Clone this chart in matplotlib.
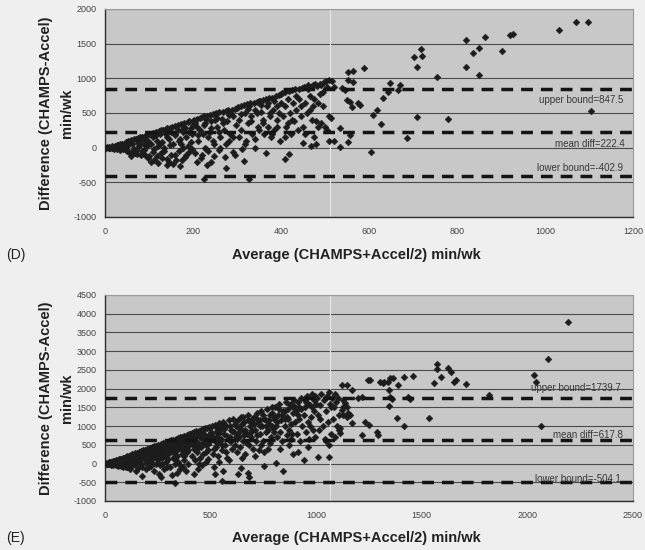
import numpy as np
import matplotlib
matplotlib.use("Agg")
import matplotlib.pyplot as plt

plt.rcParams['font.family'] = ['Liberation Sans', 'DejaVu Sans']
plt.rcParams['axes.unicode_minus'] = False

# ---------------- Panel D data (average, difference) ----------------
d_bounds = {"upper": 847.5, "mean": 222.4, "lower": -402.9}
d_xticks = [0, 200, 400, 600, 800, 1000, 1200]
d_yticks = [-1000, -500, 0, 500, 1000, 1500, 2000]

d_low = [(2,0),(5,5),(8,-5),(10,10),(12,-10),(15,20),(18,0),(20,-15),(22,30),(25,10),(27,-20),(30,40),(32,0),(35,-30),
         (38,50),(40,20),(42,-10),(45,60),(47,-40),(50,30),(10,0),(20,5),(30,15),(40,-25),(48,80),(35,60),(28,45),(15,-8),
         (45,0),(50,-50),(52,100),(55,-60),(58,110),(60,-70),(62,50),(65,120),(68,-80),(70,130),(72,-90),(75,140),(78,20),
         (80,150),(82,-100),(85,160),(88,60),(90,170),(92,-110),(95,180),(98,100),(100,190),(55,80),(65,-20),(75,70),
         (85,-50),(95,30),(70,-40),(80,90),(90,120),(100,-120),(98,-150),(60,-120),(88,-30)]
d_mid1 = [(102,200),(105,-200),(108,210),(110,150),(112,-180),(115,230),(118,100),(120,-220),(122,240),(125,50),(128,250),
          (130,-150),(132,260),(135,0),(138,270),(140,-250),(142,280),(145,120),(148,290),(150,-100),(105,60),(110,-60),
          (115,180),(120,20),(125,200),(130,80),(135,-50),(140,160),(145,-200),(150,230),(112,-20),(128,-80),(138,190),
          (148,40),(118,-120),(142,-160),(152,300),(155,-230),(158,310),(160,200),(162,-180),(165,330),(168,100),(170,-260),
          (172,340),(175,250),(178,0),(180,360),(182,-140),(185,150),(188,370),(190,-60),(192,380),(195,280),(198,-20),
          (200,390),(155,50),(160,-100),(165,260),(170,120),(175,-180),(180,300),(185,-110),(190,220),(195,80),(200,330),
          (158,180),(168,-50),(178,230),(188,30),(198,200),(172,60),(182,290)]
d_mid2 = [(202,400),(205,-80),(208,410),(210,300),(212,100),(215,430),(218,-150),(220,440),(222,200),(224,-445),(225,450),
          (228,350),(230,-20),(231,-249),(232,460),(235,150),(238,470),(240,-206),(242,380),(245,480),(248,50),(250,490),
          (205,350),(210,-200),(215,250),(220,-100),(225,320),(230,420),(235,-50),(240,280),(245,100),(250,400),(212,180),
          (228,0),(238,220),(248,-120),(252,500),(255,300),(258,-30),(260,510),(262,150),(265,420),(268,520),(270,250),
          (272,-130),(275,530),(276,-287),(278,380),(280,540),(282,100),(285,200),(288,550),(290,450),(292,-60),(295,560),
          (298,320),(300,570),(255,430),(262,0),(268,350),(275,50),(282,470),(290,150),(296,-100),(258,230),(285,500)]
d_mid3 = [(302,580),(305,400),(308,600),(310,250),(312,-20),(315,-191),(315,620),(318,500),(320,100),(322,630),(325,350),
          (328,-455),(330,640),(332,450),(335,200),(338,650),(340,550),(342,0),(345,660),(348,300),(350,670),(305,150),
          (310,480),(318,50),(325,560),(332,380),(340,120),(345,500),(350,250),(328,600),(352,680),(355,520),(358,400),
          (360,690),(362,200),(365,-72),(365,700),(368,600),(370,300),(372,710),(375,450),(378,150),(380,720),(382,550),
          (385,250),(388,740),(390,400),(392,600),(395,760),(398,100),(400,780),(355,620),(360,350),(370,650),(375,500),
          (380,200),(385,680),(390,300),(395,500),(400,650)]
d_mid4 = [(402,790),(405,450),(408,600),(409,-167),(410,800),(412,300),(415,700),(418,820),(419,-96),(420,500),(422,200),
          (425,830),(428,650),(430,380),(432,840),(435,550),(438,250),(440,850),(442,700),(445,450),(448,860),(449,62),
          (450,300),(410,150),(425,400),(435,750),(445,600),(415,350),(452,870),(455,650),(458,880),(460,500),(462,900),
          (465,750),(468,24),(468,880),(470,400),(472,900),(475,700),(478,920),(480,57),(480,380),(482,890),(485,650),
          (488,920),(490,350),(492,900),(495,600),(498,940),(500,300),(502,960),(505,880),(508,981),(508,96),(510,450),
          (513,431),(515,960),(520,96),(520,870),(455,200),(465,550),(475,150),(485,300),(495,800),(505,250),(462,850),
          (472,600),(488,780)]
d_high = [(534,283),(534,9),(552,80),(557,182),(539,860),(545,831),(550,687),(557,658),(561,586),(575,644),(580,615),
          (552,1091),(564,1105),(552,976),(564,947),(588,1148),(609,471),(618,543),(627,341),(605,-63),(632,716),(643,802),
          (648,932),(666,831),(670,903),(686,139),(702,1307),(709,1163),(718,1423),(720,1322),(709,442),(755,1019),
          (780,413),(821,1555),(821,1163),(836,1364),(849,1435),(850,1043),(863,1589),(902,1388),(920,1622),(927,1636),
          (1031,1699),(1071,1818),(1098,1818),(1104,526)]

# ---------------- Panel E data (average, difference) ----------------
e_bounds = {"upper": 1739.7, "mean": 617.8, "lower": -504.1}
e_xticks = [0, 500, 1000, 1500, 2000, 2500]
e_yticks = [-1000, -500, 0, 500, 1000, 1500, 2000, 2500, 3000, 3500, 4000, 4500]

e_low = [(3,0),(6,10),(9,-10),(12,20),(15,-20),(18,30),(21,0),(24,40),(27,-30),(30,50),(33,10),(36,60),(39,-40),(42,70),
         (45,20),(48,80),(51,-50),(54,90),(57,30),(60,100),(63,-60),(66,110),(69,40),(72,120),(75,-70),(78,130),(81,50),
         (84,140),(87,-80),(90,150),(93,60),(96,160),(99,-90),(100,180),(20,15),(40,-10),(60,50),(80,0),(95,100),(50,40),
         (70,70),(88,20),(103,200),(106,-100),(110,150),(113,210),(116,50),(120,-150),(123,230),(126,100),(130,250),
         (133,-50),(136,180),(140,270),(143,0),(146,-196),(150,290),(153,120),(156,-120),(160,310),(163,200),(166,60),
         (170,330),(173,-80),(176,-329),(180,350),(183,250),(186,150),(190,370),(193,20),(196,280),(200,390),(110,80),
         (125,-30),(140,140),(155,240),(170,-20),(185,320),(198,100),(118,170),(148,30),(178,220),(192,-150)]
e_mid1 = [(203,400),(206,200),(210,-100),(213,420),(216,300),(220,50),(223,440),(226,150),(230,-200),(233,460),(236,350),
          (240,0),(243,480),(246,250),(250,100),(253,500),(255,-284),(256,380),(260,-50),(263,520),(265,-347),(266,300),
          (270,150),(273,540),(276,420),(280,-150),(283,560),(286,200),(290,50),(293,580),(296,350),(300,480),(210,350),
          (225,250),(240,380),(255,450),(270,0),(285,400),(298,120),(218,-60),(248,320),(278,260),(292,-80),
          (303,600),(306,300),(310,-100),(313,620),(316,450),(320,150),(323,640),(326,500),(330,0),(333,116),(333,-524),
          (336,660),(340,350),(343,200),(346,680),(350,550),(353,-50),(357,-151),(356,700),(360,400),(363,250),(366,720),
          (370,600),(373,100),(376,740),(380,450),(383,-200),(386,760),(390,300),(393,650),(396,780),(400,500),(310,550),
          (320,380),(335,450),(345,50),(355,600),(365,480),(375,200),(385,550),(395,350),(318,-300),(342,-250),(368,-100),
          (392,0)]
e_fill = [(160,100),(175,180),(190,280),(205,120),(215,380),(228,330),(238,200),(252,420),(262,220),(275,330),(288,480),
          (300,260),(312,420),(325,280),(338,540),(350,420),(362,580),(375,330),(388,480),(402,640),(415,500),(428,600),
          (440,420),(452,700),(465,560),(478,680),(490,520),(502,760),(515,620),(528,700),(540,820),(552,500),(565,920),
          (578,740),(590,600),(603,880),(618,720),(632,820),(648,1050),(662,900),(678,1150),(692,850),(706,1050),
          (720,1200),(735,1150),(748,1300),(762,1000),(778,1150),(792,1350),(806,1250),(822,1450),(838,1300),(852,1200),
          (868,1450),(882,1600),(898,1500),(912,1300),(928,1450),(945,1700),(962,1600),(978,1500),(995,1800)]
e_mid2 = [(403,800),(406,550),(410,200),(413,820),(416,650),(420,400),(422,-284),(423,840),(426,100),(430,700),(433,860),
          (436,300),(440,550),(443,880),(446,750),(450,150),(453,900),(456,450),(460,650),(463,920),(466,250),(470,800),
          (473,940),(476,500),(480,50),(483,960),(486,700),(490,350),(493,980),(496,600),(500,850),(410,700),(425,500),
          (445,0),(465,900),(478,300),(492,750),(438,-150),(458,-50),(488,120),
          (505,1000),(510,700),(515,400),(520,-284),(520,1030),(525,850),(530,550),(535,200),(540,1070),(545,900),
          (550,650),(553,-462),(555,350),(560,1100),(565,800),(570,500),(575,1000),(580,150),(585,1150),(590,700),
          (595,900),(600,400),(510,250),(530,950),(545,600),(565,1050),(575,300),(590,1000),(598,600),(515,-100),(540,50),
          (560,-200),(585,100),(550,1000),(525,450)]
e_mid3 = [(605,1200),(610,850),(615,500),(620,1000),(625,300),(628,-267),(630,1150),(635,700),(640,450),(643,-124),
          (645,1250),(650,900),(655,600),(660,1100),(665,250),(670,800),(675,1300),(677,-240),(680,500),(683,-347),
          (685,1000),(690,700),(695,1200),(700,400),(615,1050),(635,950),(655,1250),(670,550),(690,1100),(625,650),
          (650,150),(660,750),(698,900),
          (705,1250),(710,900),(715,600),(720,1350),(725,1100),(730,350),(735,800),(740,1400),(745,1000),(750,600),
          (755,-62),(755,1200),(760,850),(765,1450),(770,400),(775,1050),(780,1300),(785,700),(790,1500),(795,950),
          (800,1200),(720,750),(740,500),(760,1150),(780,550),(798,850),(712,200),(732,1000),(752,300),(772,900),(790,1000)]
e_mid4 = [(805,1500),(808,27),(810,1000),(815,700),(820,1300),(825,1600),(830,850),(835,1150),(840,600),(843,-196),
          (845,1400),(850,1000),(855,1650),(860,750),(865,1200),(870,500),(875,1550),(880,1050),(885,800),(890,1350),
          (892,249),(895,1700),(900,1100),(815,1100),(830,400),(850,1400),(870,900),(888,1500),(860,1250),(880,650),
          (905,1400),(910,800),(915,1650),(920,1200),(925,600),(930,1750),(935,1000),(940,1300),(941,98),(945,1500),
          (950,850),(955,1800),(960,1100),(965,650),(970,1550),(975,1250),(980,1850),(985,900),(990,1400),(995,700),
          (1000,1600),(920,1500),(950,1650),(970,1000),(990,1700),(912,300),(960,450),
          (1005,1750),(1010,178),(1010,1300),(1015,900),(1020,1550),(1025,1850),(1030,1000),(1035,1700),(1040,650),
          (1045,1400),(1050,1800),(1055,1100),(1059,178),(1060,1900),(1065,1600),(1070,800),(1075,1750),(1080,1200),
          (1085,1500),(1090,700),(1095,1650),(1100,1000),(1105,1750),(1110,1300),(1020,1200),(1045,600),(1070,1500),
          (1090,1850),(1108,900),(1062,500)]
e_high = [(1113,948),(1113,814),(1122,1428),(1127,1508),(1127,1695),(1136,1615),(1146,1508),(1127,1295),(1146,1242),
          (1150,1348),(1160,1295),(1170,1081),(1122,2096),(1146,2096),(1170,1962),(1198,1749),(1217,1776),(1231,1108),
          (1250,1028),(1217,761),(1245,2229),(1255,2229),(1288,841),(1293,761),(1302,2176),(1316,2149),(1321,2176),
          (1340,2176),(1349,2283),(1364,2283),(1345,1962),(1349,1776),(1359,1722),(1345,1535),(1383,1215),(1387,2096),
          (1416,1001),(1416,2310),(1435,1776),(1444,1722),(1458,2336),(1534,1215),(1558,2149),(1572,2657),(1572,2523),
          (1591,2310),(1624,2550),(1638,2443),(1653,2176),(1662,2229),(1709,2123),(1818,1829),(2031,2363),(2041,2176),
          (2064,1001),(2098,2790),(2192,3778)]

FIG_W, FIG_H = 645, 550
fig = plt.figure(figsize=(FIG_W / 100, FIG_H / 100), dpi=100, facecolor='#efefef')


def fx(x):
    return x / FIG_W


def fy(y):
    return 1 - y / FIG_H


def panel(rect, groups, bounds, xticks, yticks, scan_x, label_px):
    ax = fig.add_axes(rect)
    ax.set_facecolor('#c8c8c8')
    pts = np.array([p for g in groups for p in g], dtype=float)
    ax.set_xlim(xticks[0], xticks[-1])
    ax.set_ylim(yticks[0], yticks[-1])
    ax.set_xticks(xticks)
    ax.set_yticks(yticks)
    for yv in yticks:
        ax.axhline(yv, color='#4a4a4a', lw=0.8, zorder=1)
    ax.axvline(scan_x, color='#e4e4e4', lw=0.9, zorder=1)
    ax.plot(pts[:, 0], pts[:, 1], ls='none', marker='D', ms=3.5, mfc='#1c1c1c',
            mec='#1c1c1c', mew=0.3, zorder=3)
    for key in ("upper", "mean", "lower"):
        ln, = ax.plot(xticks[0:1] + xticks[-1:], [bounds[key]] * 2, color='#141414', lw=2.5, zorder=4)
        ln.set_dashes((3.4, 2.3))
    ax.tick_params(axis='both', length=0, labelsize=6.5, labelcolor='#444444')
    ax.tick_params(axis='x', pad=7)
    ax.tick_params(axis='y', pad=6)
    for s in ('left', 'bottom'):
        ax.spines[s].set_color('#2e2e2e')
        ax.spines[s].set_linewidth(1.0)
    for s in ('top', 'right'):
        ax.spines[s].set_color('#9a9a9a')
        ax.spines[s].set_linewidth(0.8)
    names = {"upper": "upper bound=", "mean": "mean diff=", "lower": "lower bound="}
    for key, (px, py) in label_px.items():
        fig.text(fx(px), fy(py), f"{names[key]}{bounds[key]}", ha='right', va='center',
                 fontsize=7, color='#383838')
    return ax


axD = panel([fx(105), fy(217), 528 / FIG_W, 208 / FIG_H], [d_low, d_mid1, d_mid2, d_mid3, d_mid4, d_high],
            d_bounds, d_xticks, d_yticks, 511,
            {"upper": (623, 100), "mean": (625, 144), "lower": (623, 168)})
axE = panel([fx(105), fy(501), 528 / FIG_W, 206 / FIG_H], [e_low, e_mid1, e_fill, e_mid2, e_mid3, e_mid4, e_high],
            e_bounds, e_xticks, e_yticks, 1065,
            {"upper": (621, 388), "mean": (623, 435), "lower": (621, 479)})

ylab1 = "Difference (CHAMPS-Accel)"
ylab2 = "min/wk"
xlab = "Average (CHAMPS+Accel/2) min/wk"
for yc, xl_y, tag in ((113, 255, "(D)"), (398, 538, "(E)")):
    fig.text(fx(46), fy(yc), ylab1, rotation=90, ha='center', va='center', fontsize=10.5,
             fontweight='bold', color='#222222')
    fig.text(fx(67), fy(yc), ylab2, rotation=90, ha='center', va='center', fontsize=10.5,
             fontweight='bold', color='#222222')
    fig.text(fx(356), fy(xl_y), xlab, ha='center', va='center', fontsize=10.5,
             fontweight='bold', color='#222222')
    fig.text(fx(6), fy(xl_y), tag, ha='left', va='center', fontsize=10, color='#222222')

fig.savefig('out.png', dpi=100, facecolor=fig.get_facecolor())
